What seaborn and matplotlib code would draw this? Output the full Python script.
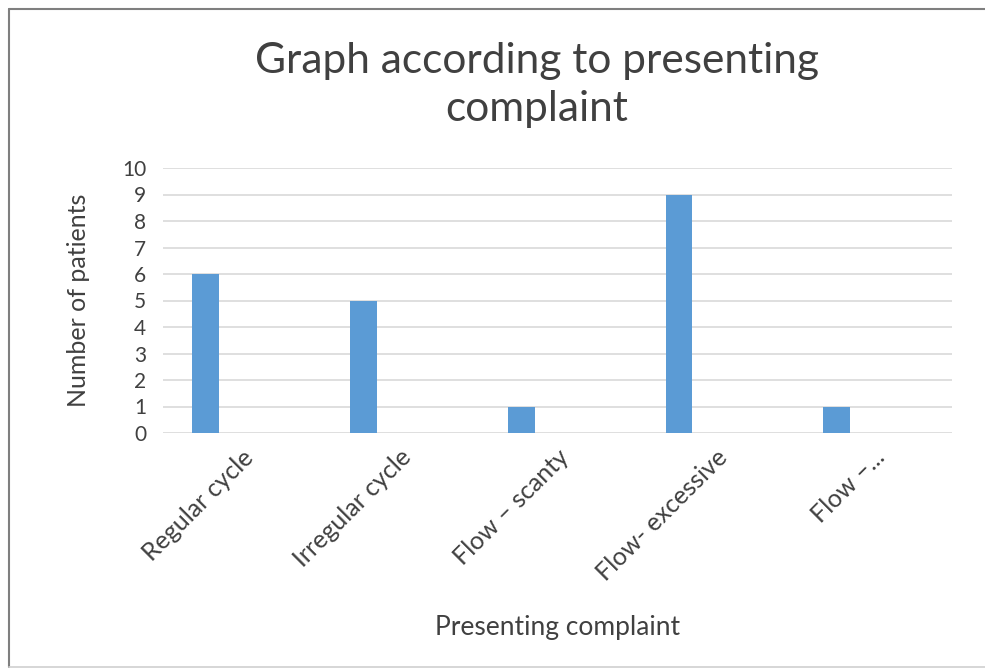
import matplotlib
matplotlib.use("Agg")
import matplotlib.pyplot as plt
from matplotlib.lines import Line2D
import seaborn as sns
import pandas as pd

categories = ["Regular cycle", "Irregular cycle", "Flow \u2013 scanty", "Flow- excessive", "Flow \u2013..."]
patients = [6, 5, 1, 9, 1]
empty_series = [0, 0, 0, 0, 0]
series_names = ["Number of patients", "(blank)"]

df = pd.DataFrame({
    "complaint": categories * 2,
    "count": patients + empty_series,
    "series": [series_names[0]] * len(categories) + [series_names[1]] * len(categories),
})

sns.set_style("white")
plt.rcParams['font.family'] = ['Lato', 'DejaVu Sans']

W, H = 985, 671
fig = plt.figure(figsize=(W / 100, H / 100), dpi=100)
fig.patch.set_facecolor("white")
ax = fig.add_axes([163 / W, 1 - 433 / H, (952 - 163) / W, (433 - 168) / H])

sns.barplot(data=df, x="complaint", y="count", hue="series",
            palette=["#5b9bd5", "#ffffff"], saturation=1, width=0.92, gap=0.63,
            linewidth=0, ax=ax, legend=False)

ax.set_ylim(0, 10)
ax.set_xlim(-0.5, len(categories) - 0.5)
ax.set_yticks(range(0, 11))
ax.yaxis.grid(True, color="#d9d9d9", linewidth=1.2)
ax.set_axisbelow(True)
for s in ax.spines.values():
    s.set_visible(False)
ax.tick_params(axis="both", length=0)
ax.tick_params(axis="y", labelsize=15, labelcolor="#404040", pad=12)
ax.set_xticks(range(len(categories)))
ax.set_xticklabels(categories, rotation=45, ha="right", rotation_mode="anchor",
                   fontsize=18, color="#404040")
ax.tick_params(axis="x", pad=9)
ax.set_ylabel("Number of patients", fontsize=18, color="#404040")
ax.yaxis.set_label_coords(-(163 - 78) / (952 - 163), 0.5)
ax.set_xlabel("Presenting complaint", fontsize=19, color="#404040")
ax.xaxis.set_label_coords(0.5, -(627 - 433) / (433 - 168))
ax.xaxis.label.set_va("center")
ax.yaxis.label.set_va("center")

fig.text(537 / W, 1 - 85 / H, "Graph according to presenting\ncomplaint",
         ha="center", va="center", fontsize=30.5, color="#404040", linespacing=1.3)

# chart border
fig.add_artist(Line2D([9 / W, 9 / W], [1 - 9 / H, 1 - 667 / H], transform=fig.transFigure, color="#7f7f7f", lw=1.5))
fig.add_artist(Line2D([9 / W, 1.0], [1 - 9 / H, 1 - 9 / H], transform=fig.transFigure, color="#7f7f7f", lw=1.5))
fig.add_artist(Line2D([9 / W, 1.0], [1 - 667 / H, 1 - 667 / H], transform=fig.transFigure, color="#d0d0d0", lw=1.2))

fig.savefig("out.png", dpi=100)
